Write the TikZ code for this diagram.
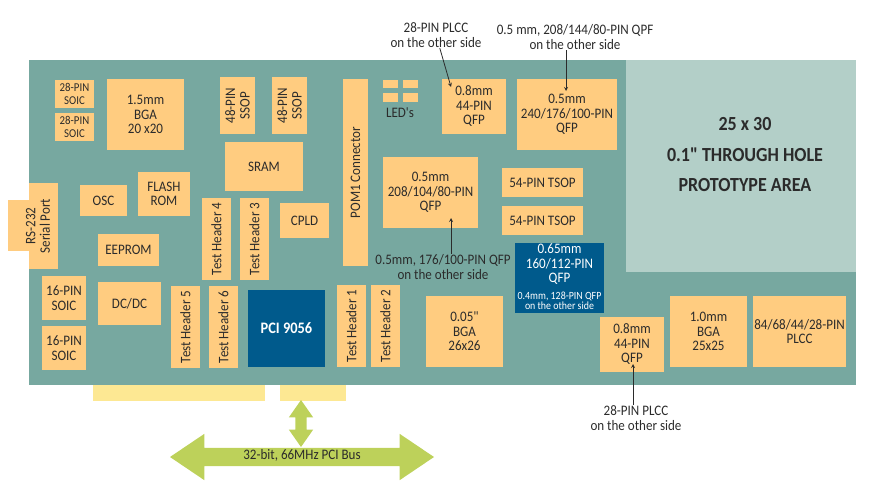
\documentclass[tikz,border=0pt]{standalone}
\usepackage{fontspec}
\setmainfont[FakeStretch=0.9, Ligatures=TeXOff]{Carlito}
\usetikzlibrary{shapes.arrows}
\definecolor{boardgreen}{HTML}{77A8A0}
\definecolor{protogreen}{HTML}{B3CFC8}
\definecolor{chiporange}{HTML}{FFCC80}
\definecolor{chipblue}{HTML}{005A8C}
\definecolor{edgeyellow}{HTML}{FDE893}
\definecolor{busgreen}{HTML}{BDD15A}
\definecolor{inkdark}{HTML}{2B2B2B}
\tikzset{
	every node/.style={inner sep=0pt, outer sep=0pt, align=center, text=inkdark, font=\fontsize{14.5}{14.5}\selectfont},
	chip/.style 2 args={fill=chiporange, minimum width=#1, minimum height=#2},
	bluechip/.style 2 args={fill=chipblue, text=white, minimum width=#1, minimum height=#2},
	header/.style={chip={82}{29}, rotate=90},
	pointer/.style={-stealth, thick, draw=inkdark, shorten <=1pt},
	bigarrow/.style={double arrow, fill=busgreen, anchor=center},
}
\begin{document}
\begin{tikzpicture}[x=1pt, y=-1pt]
	\useasboundingbox (0,0) rectangle (875,490);

	\node[fill=edgeyellow, minimum width=172, minimum height=16] (edgeA) at (179,393) {};
	\node[fill=edgeyellow, minimum width=66, minimum height=16] (edgeB) at (313,393) {};
	\node[fill=boardgreen, minimum width=827, minimum height=325] (board) at (442.5,222.5) {};
	\node[fill=protogreen, minimum width=230, minimum height=212] (proto) at (741,166) {};
	\node[font=\bfseries\fontsize{20}{30.5}\selectfont] (protoText) at (745,155) {25 x 30\\0.1" THROUGH HOLE\\PROTOTYPE AREA};

	\node[chip={39}{28}, font=\fontsize{12}{13}\selectfont] (soicA) at (74.5,94) {28-PIN\\SOIC};
	\node[chip={39}{28}, font=\fontsize{12}{13}\selectfont] (soicB) at (74.5,127) {28-PIN\\SOIC};
	\node[chip={77}{71}] (bgaA) at (145.5,114.5) {1.5mm\\BGA\\20 x20};
	\node[chip={57}{35}, rotate=90] (ssopA) at (237.5,105.5) {48-PIN\\SSOP};
	\node[chip={57}{35}, rotate=90] (ssopB) at (289.5,105.5) {48-PIN\\SSOP};
	\node[chip={78}{49}] (sram) at (264,166.5) {SRAM};
	\node[chip={52}{44}] (flash) at (164,194) {FLASH\\ROM};
	\node[chip={47}{31}] (osc) at (103.5,200.5) {OSC};
	\node[chip={29}{86}] (serialBody) at (43.5,226) {};
	\node[chip={21}{51}] (serialTab) at (18.5,225.5) {};
	\node[rotate=90] (serialText) at (38,226) {RS-232\\Serial Port};
	\node[chip={61}{32}] (eeprom) at (128.5,250) {EEPROM};
	\node[header] (headerD) at (216.5,239) {Test Header 4};
	\node[header] (headerC) at (254.5,239) {Test Header 3};
	\node[chip={49}{35}] (cpld) at (304.5,220.5) {CPLD};
	\node[chip={44}{44}] (soicC) at (64,298) {16-PIN\\SOIC};
	\node[chip={44}{44}] (soicD) at (64,348) {16-PIN\\SOIC};
	\node[chip={63}{43}] (dcdc) at (129.5,303.5) {DC/DC};
	\node[header] (headerE) at (185.5,327) {Test Header 5};
	\node[header] (headerF) at (223.5,327) {Test Header 6};
	\node[bluechip={77}{77}, font=\bfseries\fontsize{16}{14.5}\selectfont] (pci) at (286.5,328.5) {PCI 9056};
	\node[header] (headerA) at (351.5,326) {Test Header 1};
	\node[header] (headerB) at (385.5,326) {Test Header 2};
	\node[chip={187}{25}, rotate=90] (pom) at (355.5,172.5) {POM1 Connector};

	\node[chip={15}{8.5}] (ledA) at (390.5,84) {};
	\node[chip={15}{8.5}] (ledB) at (410.5,84) {};
	\node[chip={15}{8.5}] (ledC) at (390.5,97.5) {};
	\node[chip={15}{8.5}] (ledD) at (410.5,97.5) {};
	\node (ledText) at (400,113) {LED's};

	\node[chip={64}{55}] (qfpA) at (474,106.5) {0.8mm\\44-PIN\\QFP};
	\node[chip={100}{71}] (qfpB) at (567,114.5) {0.5mm\\240/176/100-PIN\\QFP};
	\node[chip={95}{71}] (qfpC) at (430.5,192.5) {0.5mm\\208/104/80-PIN\\QFP};
	\node[chip={81}{29}] (tsopA) at (542.5,182.5) {54-PIN TSOP};
	\node[chip={81}{29}] (tsopB) at (542.5,220.5) {54-PIN TSOP};
	\node[bluechip={89}{70}] (qfpBlue) at (559.5,278) {};
	\node[text=white] (qfpBlueText) at (559.5,264.5) {0.65mm\\160/112-PIN\\QFP};
	\node[text=white, font=\fontsize{11}{10}\selectfont] (qfpBlueNote) at (559.5,300.5) {0.4mm, 128-PIN QFP\\on the other side};
	\node[chip={77}{71}] (bgaB) at (464.5,331.5) {0.05"\\BGA\\26x26};
	\node[chip={64}{55}] (qfpD) at (632,344.5) {0.8mm\\44-PIN\\QFP};
	\node[chip={77}{71}] (bgaC) at (708.5,331.5) {1.0mm\\BGA\\25x25};
	\node[chip={93}{71}] (plcc) at (799.5,331.5) {84/68/44/28-PIN\\PLCC};

	\node (noteA) at (436,35) {28-PIN PLCC\\on the other side};
	\node (noteB) at (575,37) {0.5 mm, 208/144/80-PIN QPF\\on the other side};
	\node (noteC) at (443,267) {0.5mm, 176/100-PIN QFP\\on the other side};
	\node (noteD) at (636,418) {28-PIN PLCC\\on the other side};
	\coordinate (tipA) at (451,87);
	\coordinate (tipB) at (566,91);
	\coordinate (tipC) at (451,218);
	\coordinate (tipD) at (633,364);

	\path (noteA) edge[pointer] (tipA)
	(noteB.south -| tipB) edge[pointer] (tipB)
	(noteC.north -| tipC) edge[pointer] (tipC)
	(noteD.north -| tipD) edge[pointer] (tipD);

	\node[bigarrow, minimum height=47, minimum width=24, inner ysep=5.5, double arrow head extend=6.5, double arrow tip angle=70, rotate=90] (linkArrow) at (301,423.5) {};
	\node[bigarrow, minimum height=264, minimum width=46, text height=7, text depth=3, inner ysep=4, double arrow head extend=14, double arrow tip angle=68] (busArrow) at (302,457) {32-bit, 66MHz PCI Bus};
\end{tikzpicture}
\end{document}
